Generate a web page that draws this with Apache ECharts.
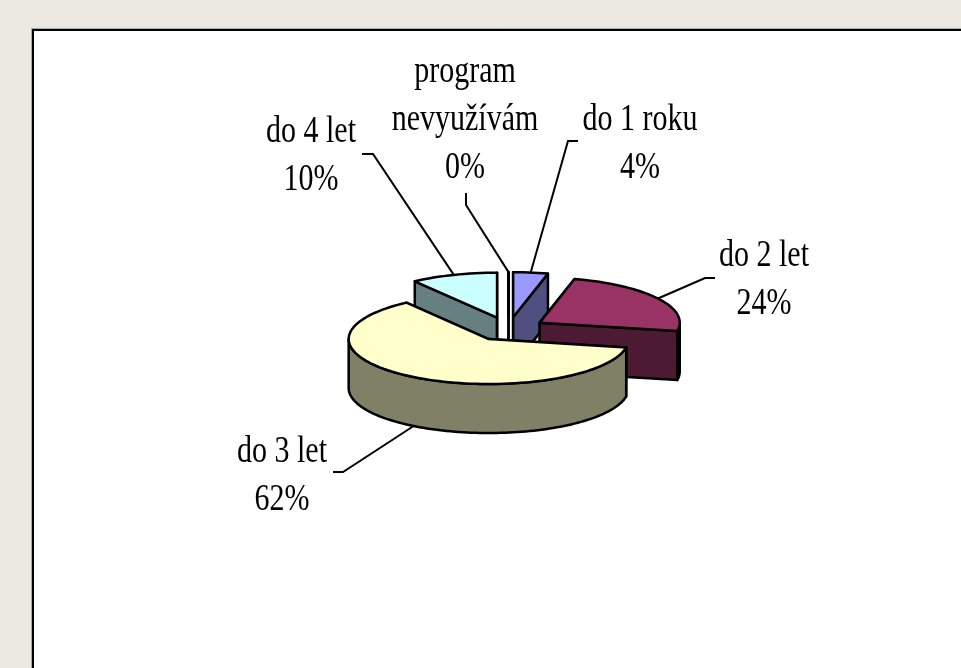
<!DOCTYPE html>
<html style="height: 100%">
<head>
<meta charset="utf-8">
</head>
<body style="height: 100%; margin: 0; background: #ece9e1">
<div id="container" style="height: 100%"></div>
<script type="text/javascript" src="https://cdn.jsdelivr.net/npm/echarts@6/dist/echarts.min.js"></script>
<script type="text/javascript">
// slices run clockwise from 12 o'clock
var categories = ['do 1 roku', 'do 2 let', 'do 3 let', 'do 4 let', 'program\nnevyužívám'];
var percents = [4, 24, 62, 10, 0];
var topColors = ['#9999ff', '#993366', '#ffffcc', '#ccffff', '#660066'];
var sideColors = ['#4f4f80', '#4d1a33', '#808066', '#668080', '#330033'];

// label centre and leader elbow points, in pixels
var labelCentres = [[640, 144.5], [764, 280.5], [282, 476.5], [311, 156.5], [465, 120]];
var leaderElbows = [
    [[578, 141], [568, 141]],
    [[715, 278], [705, 278]],
    [[333, 472], [343, 472]],
    [[362, 154], [373, 154]],
    [[466, 193], [466, 205]]
];

var centreX = 508.5, centreY = 329;
var radiusX = 140, radiusY = 45;
var depth = 49, explode = 37;

function sumBefore(idx) {
    var s = 0;
    for (var i = 0; i < idx; i++) s += percents[i];
    return s;
}

function renderSlice(params, api) {
    var i = params.dataIndex;
    var total = percents.reduce(function (a, b) { return a + b; }, 0);
    var start = sumBefore(i) / total * 2 * Math.PI;
    var end = start + api.value(0) / total * 2 * Math.PI;
    var mid = (start + end) / 2;

    var ox = centreX + explode * Math.sin(mid);
    var oy = centreY - explode * radiusY / radiusX * Math.cos(mid);

    function rim(a) {
        return [ox + radiusX * Math.sin(a), oy - radiusY * Math.cos(a)];
    }
    function drop(p) {
        return [p[0], p[1] + depth];
    }
    function radialWall(a) {
        var p = rim(a);
        return [[ox, oy], p, drop(p), [ox, oy + depth]];
    }

    var steps = Math.max(2, Math.ceil((end - start) / 0.04));
    var top = [[ox, oy]];
    for (var k = 0; k <= steps; k++) {
        top.push(rim(start + (end - start) * k / steps));
    }

    // the outer wall only shows on the front half of the ellipse
    var wallFrom = Math.max(start, Math.PI / 2);
    var wallTo = Math.min(end, Math.PI * 1.5);
    var upper = [], lower = [];
    if (wallTo > wallFrom) {
        for (k = 0; k <= steps; k++) {
            var p = rim(wallFrom + (wallTo - wallFrom) * k / steps);
            upper.push(p);
            lower.unshift(drop(p));
        }
    }

    // back slices are painted first
    var z = Math.round(-Math.cos(mid) * 100) + 200;
    function poly(points, fill, z2) {
        return {
            type: 'polygon',
            z2: z2,
            shape: { points: points },
            style: { fill: fill, stroke: '#000', lineWidth: 2.5, lineJoin: 'round' }
        };
    }

    var side = sideColors[i];
    var children = [
        poly(radialWall(start), side, z),
        poly(radialWall(end), side, z)
    ];
    if (upper.length) children.push(poly(upper.concat(lower), side, z + 1));
    children.push(poly(top, topColors[i], z + 2));

    // leader from the rim (or the wall bottom when the slice faces us)
    var anchor = rim(mid);
    if (Math.cos(mid) < -0.5) anchor = drop(anchor);
    children.push({
        type: 'polyline',
        z2: 1,
        shape: { points: leaderElbows[i].concat([anchor]) },
        style: { fill: 'none', stroke: '#000', lineWidth: 2 }
    });

    var c = labelCentres[i];
    children.push({
        type: 'text',
        z2: 600,
        x: c[0],
        y: c[1],
        scaleY: 1.25,
        style: {
            text: categories[i] + '\n' + percents[i] + '%',
            font: '30px "Liberation Serif"',
            fill: '#000',
            align: 'center',
            verticalAlign: 'middle',
            lineHeight: 38.5
        }
    });

    return { type: 'group', children: children };
}

var seriesData = percents.map(function (v, i) {
    return { value: [v], name: categories[i] };
});

var myChart = echarts.init(document.getElementById('container'));
var option = {
    backgroundColor: '#ece9e1',
    animation: false,
    graphic: [{
        type: 'rect',
        z: -1,
        shape: { x: 31.5, y: 28.5, width: 1100, height: 800 },
        style: { fill: '#fff', stroke: '#a9a8a3', lineWidth: 1 }
    }, {
        type: 'rect',
        z: -1,
        shape: { x: 33, y: 30, width: 1100, height: 800 },
        style: { fill: '#fff', stroke: '#000', lineWidth: 2 }
    }],
    series: [{
        type: 'custom',
        coordinateSystem: 'none',
        silent: true,
        data: seriesData,
        renderItem: renderSlice
    }]
};
myChart.setOption(option);
</script>
</body>
</html>
